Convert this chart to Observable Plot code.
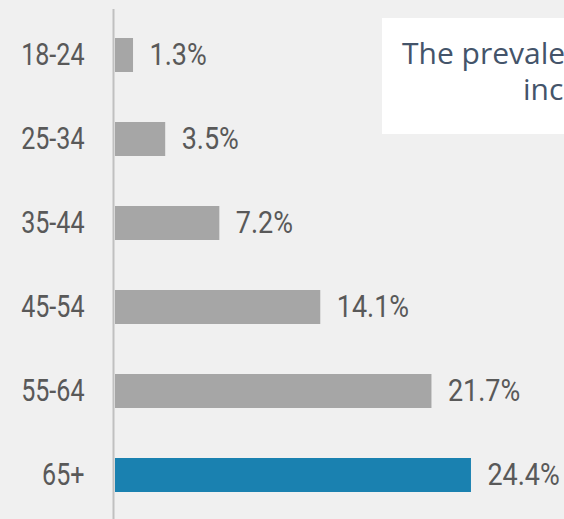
<!DOCTYPE html>
<html>
<head>
<meta charset="utf-8">
<script src="https://cdn.jsdelivr.net/npm/d3@7"></script>
<script src="https://cdn.jsdelivr.net/npm/@observablehq/plot@0.6"></script>
<style>
  html, body { margin: 0; padding: 0; background: #f0f0f0; }
  #wrap { position: relative; width: 564px; height: 519px; overflow: hidden; background: #f0f0f0; }
  #note { position: absolute; left: 382px; top: 18px; width: 200px; height: 116px; background: #ffffff; overflow: hidden;
          font-family: "Open Sans", "Noto Sans", sans-serif; font-size: 30px; line-height: 36px; color: #44546a; }
  #note div { position: absolute; white-space: nowrap; }
</style>
</head>
<body>
<div id="wrap"><div id="chart"></div><div id="note"></div></div>
<script>
const ageGroups = ["18-24", "25-34", "35-44", "45-54", "55-64", "65+"];
const prevalence = [1.3, 3.5, 7.2, 14.1, 21.7, 24.4];
const highlight = ["65+"];
const noteLines = ["The prevalence of diabetes", "increases with age"];

const data = ageGroups.map((g, i) => ({group: g, value: prevalence[i]}));

const font = "Roboto, 'Liberation Sans', sans-serif";

const chart = Plot.plot({
  width: 564,
  height: 519,
  marginLeft: 114,
  marginRight: 0,
  marginTop: 9,
  marginBottom: 0,
  style: {background: "#f0f0f0", fontFamily: font},
  x: {domain: [0, 30.76], axis: null},
  y: {domain: ageGroups, range: [18, 511], paddingInner: 0.6, paddingOuter: 0.2, label: null},
  marks: [
    Plot.barX(data, {x: "value", y: "group", fill: d => highlight.includes(d.group) ? "#1a81b0" : "#a6a6a6", insetLeft: 1}),
    Plot.ruleX([0], {stroke: "#c0c0c0", strokeWidth: 2, dx: -1}),
    Plot.axisY({tickSize: 0, tickPadding: 30, fontSize: 31, fill: "#595959", fontFamily: font, label: null}),
    Plot.text(data, {x: "value", y: "group", text: d => d.value.toFixed(1) + "%", textAnchor: "start", dx: 16,
      fontSize: 31, fill: "#595959", fontFamily: font})
  ]
});
document.getElementById("chart").appendChild(chart);

// condense the Roboto glyphs (about the text anchor) to mimic the narrow face of the reference
function condense(sel, k) {
  chart.querySelectorAll(sel).forEach(t => {
    let tr = t.getAttribute("transform") || "";
    const x = t.getAttribute("x");
    if (x !== null && isFinite(+x)) {
      tr += ` translate(${+x},0)`;
      t.removeAttribute("x");
    }
    t.setAttribute("transform", `${tr} scale(${k},1)`);
  });
}
condense('g[aria-label="y-axis tick label"] text', 0.81);
condense('g[aria-label="text"] text', 0.87);

const note = document.getElementById("note");
const offsets = [[20, 17], [141, 53]];
noteLines.forEach((t, i) => {
  const d = document.createElement("div");
  d.textContent = t;
  d.style.left = offsets[i][0] + "px";
  d.style.top = offsets[i][1] + "px";
  note.appendChild(d);
});
</script>
</body>
</html>
